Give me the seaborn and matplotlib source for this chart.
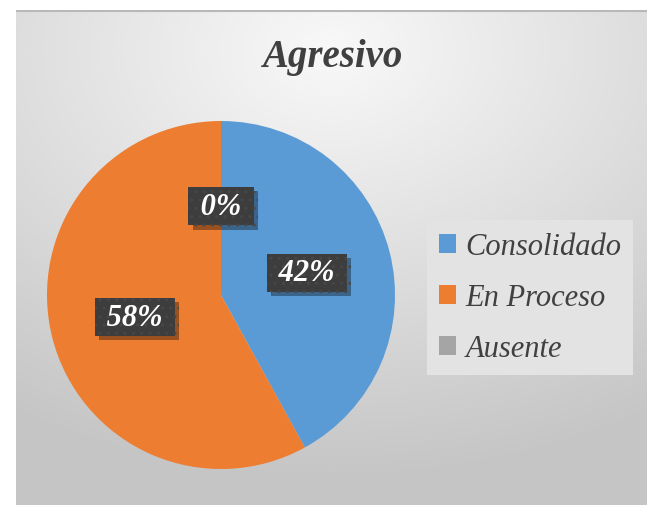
import numpy as np
import matplotlib.pyplot as plt
import matplotlib.patheffects as pe
import seaborn as sns

categories = ['Consolidado', 'En Proceso', 'Ausente']
values = [42, 58, 0]
colors = ['#5B9BD5', '#ED7D31', '#A5A5A5']
title = 'Agresivo'

sns.set_style('white')
FONT = 'Liberation Serif'
plt.rcParams['font.family'] = [FONT, 'DejaVu Serif']
plt.rcParams['hatch.linewidth'] = 1.0

W, H = 647, 506
fig = plt.figure(figsize=(W / 100, H / 100), dpi=100)

# grey radial-gradient chart area (Excel style)
bg = fig.add_axes([16 / W, 0, 1 - 16 / W, 495 / H])
yy, xx = np.mgrid[0:1:200j, 0:1:260j]
d = np.sqrt((xx - 0.5) ** 2 + ((yy - 0.08) * 1.1) ** 2)
shade = 0.975 - 0.2 * np.clip(d / 0.95, 0, 1)
bg.imshow(np.dstack([shade] * 3), aspect='auto', interpolation='bilinear')
bg.axhline(0, color='#b8b8b8', lw=1.5)
bg.axis('off')

fig.text(332 / W, 1 - 58 / H, title, ha='center', va='center', family=FONT,
         fontsize=28, fontweight='bold', fontstyle='italic', color='#404040')

# pie
cx, cy, r = 221, 296, 174
ax = fig.add_axes([(cx - r) / W, (H - cy - r) / H, 2 * r / W, 2 * r / H])
wedges, texts, autotexts = ax.pie(
    values, colors=colors, startangle=90, counterclock=False,
    autopct=lambda p: f' {p:.0f}% ', pctdistance=0.51,
    wedgeprops=dict(linewidth=0),
    textprops=dict(color='white', family=FONT, fontsize=22,
                   fontweight='bold', fontstyle='italic'))
ax.set_xlim(-1, 1)
ax.set_ylim(-1, 1)

for t in autotexts:
    t.set_bbox(dict(boxstyle='square,pad=0.15', fc='#3d3d3d', ec='#474747', lw=0, hatch='..'))
    t.get_bbox_patch().set_path_effects([
        pe.SimplePatchShadow(offset=(3, -3), shadow_rgbFace='black', alpha=0.35), pe.Normal()])

# legend
handles = [plt.Rectangle((0, 0), 1, 1, fc=c, ec='none') for c in colors]
leg = fig.legend(handles, categories, loc='upper left',
                 bbox_to_anchor=(427 / W, 1 - 221 / H), bbox_transform=fig.transFigure,
                 frameon=True, fancybox=False, borderaxespad=0,
                 handlelength=0.55, handleheight=0.55, handletextpad=0.3,
                 labelspacing=0.72, borderpad=0.4,
                 prop=dict(family=FONT, style='italic', size=22))
leg.get_frame().set_facecolor('#e3e3e3')
leg.get_frame().set_edgecolor('none')
leg.get_frame().set_alpha(1)
for t in leg.get_texts():
    t.set_color('#404040')

fig.savefig('out.png', dpi=100)
